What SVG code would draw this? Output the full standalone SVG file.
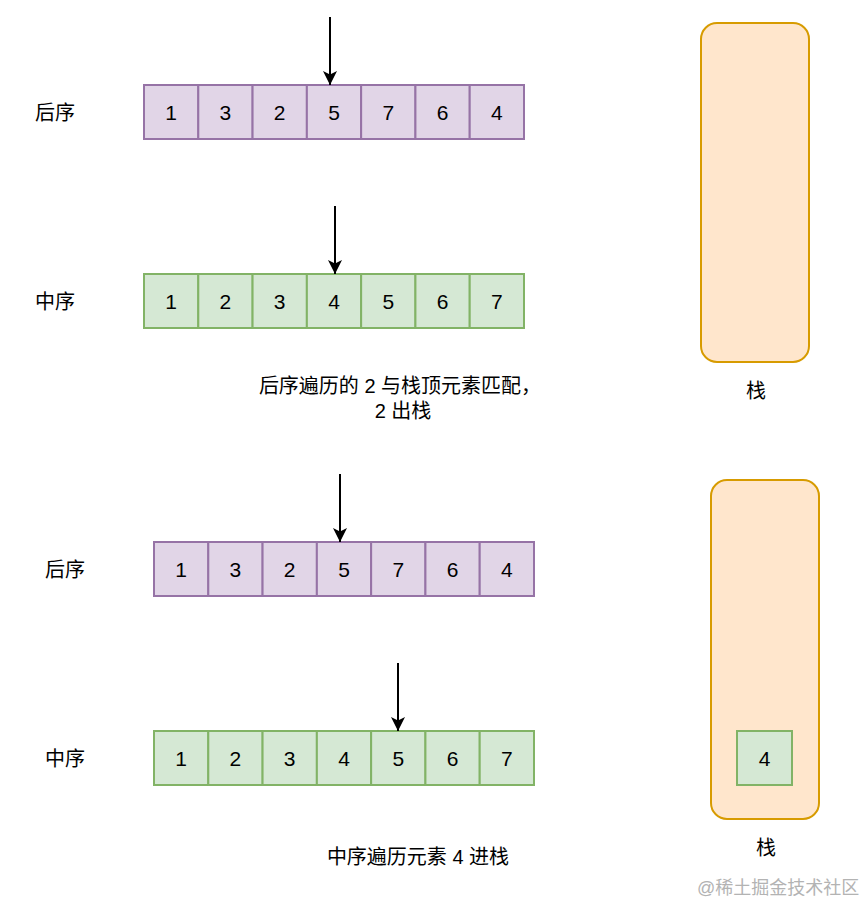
<svg xmlns="http://www.w3.org/2000/svg" width="862" height="905" viewBox="0 0 862 905">
<defs>
<style>
text{font-family:"Liberation Sans","Noto Sans CJK SC",sans-serif;font-size:20px;fill:#000;}
.c{text-anchor:middle;}
.n{font-size:21px;}
.p{fill:#e1d5e7;stroke:#9673a6;stroke-width:2;}
.g{fill:#d5e8d4;stroke:#82b366;stroke-width:2;}
.s{fill:#ffe6cc;stroke:#d79b00;stroke-width:2;}
.a{stroke:#000;stroke-width:2;fill:none;marker-end:url(#ah);}
.wm{font-size:18px;fill:#b3b3b3;}
</style>
<marker id="ah" markerWidth="14" markerHeight="16" viewBox="0 0 14 16" refX="14" refY="8" orient="auto" markerUnits="userSpaceOnUse">
<path d="M0,1 L14,8 L0,15 L3.5,8 Z" fill="#000"/>
</marker>
</defs>
<rect width="862" height="905" fill="#fff"/>

<g id="post1">
<rect class="p" x="144" y="85" width="54.29" height="54"/>
<rect class="p" x="198.29" y="85" width="54.29" height="54"/>
<rect class="p" x="252.57" y="85" width="54.29" height="54"/>
<rect class="p" x="306.86" y="85" width="54.29" height="54"/>
<rect class="p" x="361.14" y="85" width="54.29" height="54"/>
<rect class="p" x="415.43" y="85" width="54.29" height="54"/>
<rect class="p" x="469.71" y="85" width="54.29" height="54"/>
<text class="c n" x="171.1" y="119.5">1</text>
<text class="c n" x="225.4" y="119.5">3</text>
<text class="c n" x="279.7" y="119.5">2</text>
<text class="c n" x="334" y="119.5">5</text>
<text class="c n" x="388.3" y="119.5">7</text>
<text class="c n" x="442.6" y="119.5">6</text>
<text class="c n" x="496.9" y="119.5">4</text>
</g>
<g id="label-post1"><text class="c" x="55" y="120">后序</text></g>

<g id="in1">
<rect class="g" x="144" y="274" width="54.29" height="54"/>
<rect class="g" x="198.29" y="274" width="54.29" height="54"/>
<rect class="g" x="252.57" y="274" width="54.29" height="54"/>
<rect class="g" x="306.86" y="274" width="54.29" height="54"/>
<rect class="g" x="361.14" y="274" width="54.29" height="54"/>
<rect class="g" x="415.43" y="274" width="54.29" height="54"/>
<rect class="g" x="469.71" y="274" width="54.29" height="54"/>
<text class="c n" x="171.1" y="308.5">1</text>
<text class="c n" x="225.4" y="308.5">2</text>
<text class="c n" x="279.7" y="308.5">3</text>
<text class="c n" x="334" y="308.5">4</text>
<text class="c n" x="388.3" y="308.5">5</text>
<text class="c n" x="442.6" y="308.5">6</text>
<text class="c n" x="496.9" y="308.5">7</text>
</g>
<g id="label-in1"><text class="c" x="55" y="309">中序</text></g>

<g id="stack1">
<rect class="s" x="701" y="23" width="108" height="339" rx="16" ry="16"/>
<text class="c" x="756" y="398">栈</text>
</g>

<g id="note1">
<text class="c" x="400" y="393">后序遍历的 2 与栈顶元素匹配，</text>
<text class="c" x="403" y="418">2 出栈</text>
</g>

<g id="post2">
<rect class="p" x="154" y="542" width="54.29" height="54"/>
<rect class="p" x="208.29" y="542" width="54.29" height="54"/>
<rect class="p" x="262.57" y="542" width="54.29" height="54"/>
<rect class="p" x="316.86" y="542" width="54.29" height="54"/>
<rect class="p" x="371.14" y="542" width="54.29" height="54"/>
<rect class="p" x="425.43" y="542" width="54.29" height="54"/>
<rect class="p" x="479.71" y="542" width="54.29" height="54"/>
<text class="c n" x="181.1" y="576.5">1</text>
<text class="c n" x="235.4" y="576.5">3</text>
<text class="c n" x="289.7" y="576.5">2</text>
<text class="c n" x="344" y="576.5">5</text>
<text class="c n" x="398.3" y="576.5">7</text>
<text class="c n" x="452.6" y="576.5">6</text>
<text class="c n" x="506.9" y="576.5">4</text>
</g>
<g id="label-post2"><text class="c" x="65" y="577">后序</text></g>

<g id="in2">
<rect class="g" x="154" y="731" width="54.29" height="54"/>
<rect class="g" x="208.29" y="731" width="54.29" height="54"/>
<rect class="g" x="262.57" y="731" width="54.29" height="54"/>
<rect class="g" x="316.86" y="731" width="54.29" height="54"/>
<rect class="g" x="371.14" y="731" width="54.29" height="54"/>
<rect class="g" x="425.43" y="731" width="54.29" height="54"/>
<rect class="g" x="479.71" y="731" width="54.29" height="54"/>
<text class="c n" x="181.1" y="765.5">1</text>
<text class="c n" x="235.4" y="765.5">2</text>
<text class="c n" x="289.7" y="765.5">3</text>
<text class="c n" x="344" y="765.5">4</text>
<text class="c n" x="398.3" y="765.5">5</text>
<text class="c n" x="452.6" y="765.5">6</text>
<text class="c n" x="506.9" y="765.5">7</text>
</g>
<g id="label-in2"><text class="c" x="65" y="766">中序</text></g>

<g id="stack2">
<rect class="s" x="711" y="480" width="108" height="339" rx="16" ry="16"/>
<rect class="g" x="737" y="731" width="55" height="54"/>
<text class="c n" x="764.5" y="765.5">4</text>
<text class="c" x="766" y="855">栈</text>
</g>

<g id="note2">
<text class="c" x="418" y="864">中序遍历元素 4 进栈</text>
</g>

<g id="connectors">
<line class="a" x1="330" y1="17" x2="330" y2="85"/>
<line class="a" x1="335" y1="206" x2="335" y2="274"/>
<line class="a" x1="340" y1="474" x2="340" y2="542"/>
<line class="a" x1="398" y1="663" x2="398" y2="731"/>
</g>

<text class="wm" x="697" y="894">@稀土掘金技术社区</text>
</svg>
